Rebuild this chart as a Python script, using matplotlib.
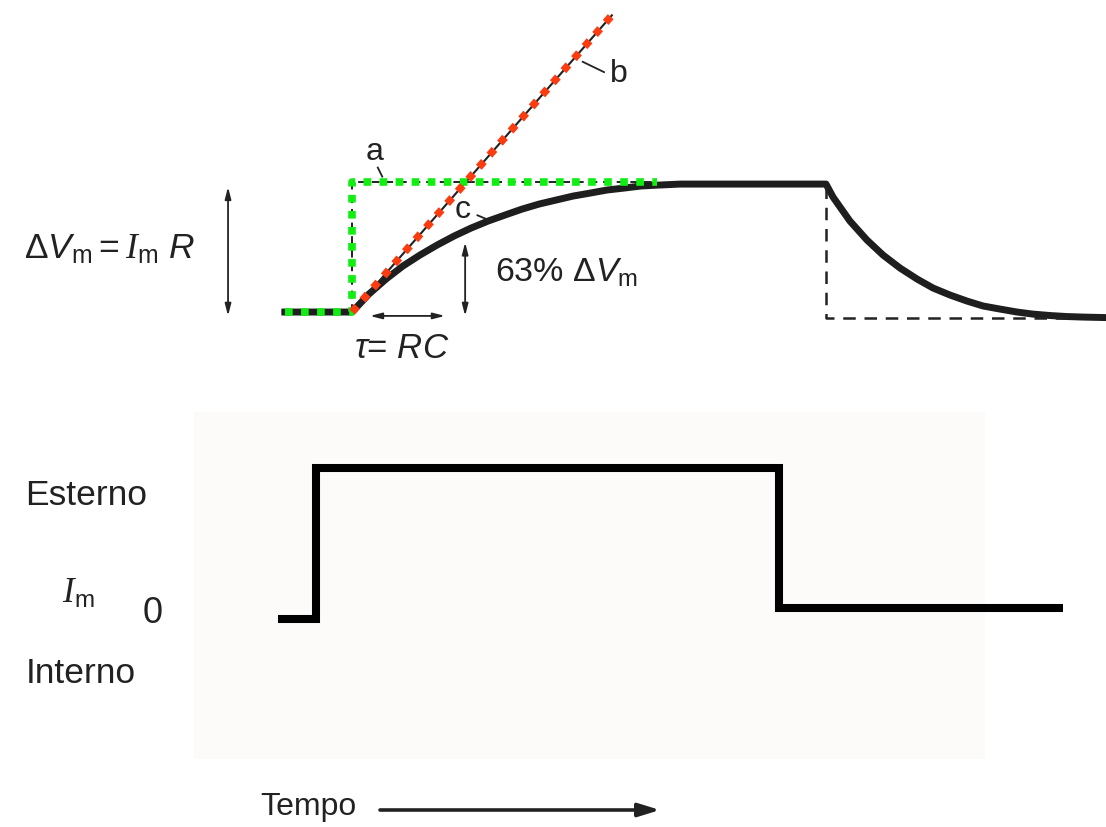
import matplotlib.pyplot as plt
import numpy as np

plt.rcParams['font.family'] = ['Liberation Sans', 'DejaVu Sans']
plt.rcParams['mathtext.fontset'] = 'custom'
plt.rcParams['mathtext.rm'] = 'Liberation Sans'
plt.rcParams['mathtext.it'] = 'Liberation Sans:italic'
plt.rcParams['mathtext.cal'] = 'Liberation Serif:italic'

# time in units of tau = RC, voltage as fraction of delta Vm
pre_t = [-0.6, 0.0]
pre_v = [0.0, 0.0]
rise_t = [0.0, 0.152, 0.304, 0.455, 0.607, 0.759, 0.911, 1.063, 1.214, 1.366,
          1.518, 1.670, 1.821, 1.973, 2.125, 2.277, 2.429, 2.580, 2.732, 2.929,
          4.232]
rise_v = [0.0, 0.140, 0.256, 0.357, 0.442, 0.519, 0.589, 0.651, 0.705, 0.752,
          0.798, 0.837, 0.868, 0.899, 0.922, 0.946, 0.961, 0.977, 0.984, 0.992,
          0.992]
decay_t = [4.295, 4.446, 4.598, 4.741, 4.893, 5.045, 5.188, 5.339, 5.491,
           5.634, 5.786, 5.938, 6.080, 6.232, 6.384, 6.527, 6.732]
decay_v = [0.891, 0.705, 0.558, 0.442, 0.341, 0.256, 0.186, 0.132, 0.085,
           0.047, 0.023, 0.0, -0.016, -0.027, -0.035, -0.039, -0.043]

# a: ideal step, b: initial slope, off: ideal step down
step_t = [-0.6, 0.0, 0.0, 2.72]
step_v = [0.0, 0.0, 1.01, 1.01]
slope_t = [0.0, 2.32]
slope_v = [0.0, 2.30]
off_t = [4.23, 4.23, 6.41]
off_v = [0.98, -0.05, -0.05]

# injected current
cur_t = [-0.35, 0.0, 0.0, 4.23, 4.23, 6.82]
cur_i = [0.0, 0.0, 1.0, 1.0, 0.07, 0.07]

W, H = 1106, 827
fig = plt.figure(figsize=(W / 100, H / 100), dpi=100)


def fx(px):
    return px / W


def fy(py):
    return 1 - py / H


# lower panel (current)
ax2 = fig.add_axes([fx(194), fy(759), (985 - 194) / W, (759 - 412) / H],
                   facecolor='#fcfbfa')
ax2.set_xlim(-1.114, 6.110)
ax2.set_ylim(-0.927, 1.371)
ax2.set_xticks([])
ax2.set_yticks([])
for s in ax2.spines.values():
    s.set_visible(False)
ax2.plot(cur_t, cur_i, color='black', lw=5.8, solid_joinstyle='miter',
         solid_capstyle='butt', clip_on=False)

# upper panel (membrane potential)
ax = fig.add_axes([0, 0, 1, 1])
ax.patch.set_alpha(0)
ax.axis('off')
ax.set_xlim(-3.143, 6.732)
ax.set_ylim(-3.992, 2.419)

curve_t = np.concatenate([pre_t, rise_t, decay_t])
curve_v = np.concatenate([pre_v, rise_v, decay_v])
ax.plot(curve_t, curve_v, color='#1e1e1e', lw=5, solid_joinstyle='round')
ax.plot(off_t, off_v, color='#222222', lw=1.8, dashes=(5, 3.5))

ax.plot(step_t[1:], step_v[1:], color='#222222', lw=1.4, dashes=(4, 3))
ax.plot(slope_t, slope_v, color='#222222', lw=1.5)
ax.plot(step_t, step_v, color='#11ee11', lw=5.5, dashes=(1, 1.1),
        dash_capstyle='butt')
ax.plot(slope_t, slope_v, color='#fa3c10', lw=5.5, dashes=(1, 1.1),
        dash_capstyle='butt')

# leaders for a, b, c
ax.plot([0.23, 0.27], [1.12, 1.05], color='#222222', lw=1.3)
ax.plot([2.06, 2.25], [1.94, 1.86], color='#222222', lw=1.3)
ax.plot([1.12, 1.23], [0.75, 0.71], color='#222222', lw=1.3)

arr = dict(arrowstyle='<|-|>,head_length=0.7,head_width=0.18', lw=1.3,
           color='#222222', shrinkA=0, shrinkB=0)
ax.annotate('', xy=(-1.107, 0.97), xytext=(-1.107, -0.03), arrowprops=arr)
ax.annotate('', xy=(1.01, 0.54), xytext=(1.01, -0.03), arrowprops=arr)
ax.annotate('', xy=(0.16, -0.03), xytext=(0.83, -0.03), arrowprops=arr)

fs = 23
tc = '#222222'
fig.text(fx(366), fy(160), 'a', fontsize=fs, color=tc)
fig.text(fx(610), fy(82), 'b', fontsize=fs, color=tc)
fig.text(fx(455), fy(218), 'c', fontsize=fs, color=tc)
fig.text(fx(24), fy(258),
         r'$\Delta V_{\mathrm{m}} = \mathcal{I}_{\mathrm{m}}\ R$',
         fontsize=25.5, color=tc)
fig.text(fx(495), fy(282), r'63% $\Delta V_{\mathrm{m}}$', fontsize=24.5,
         color=tc)
fig.text(fx(354), fy(358), r'$\tau$= $RC$', fontsize=25, color=tc)

fig.text(fx(25), fy(505), 'Esterno', fontsize=25.5, color=tc)
fig.text(fx(62), fy(602), r'$\mathcal{I}_{\mathrm{m}}$', fontsize=25, color=tc)
fig.text(fx(143), fy(623), '0', fontsize=26, color=tc)
fig.text(fx(26), fy(683), 'Interno', fontsize=25.5, color=tc)
fig.text(fx(260), fy(815), 'Tempo', fontsize=23, color=tc)
ax.annotate('', xy=(660, H - 810), xytext=(380, H - 810),
            xycoords='figure pixels', textcoords='figure pixels',
            arrowprops=dict(arrowstyle='-|>,head_length=1.3,head_width=0.4',
                            lw=2.6, color='#222222', shrinkA=0, shrinkB=0))

fig.savefig('out.png', dpi=100, facecolor='white')
